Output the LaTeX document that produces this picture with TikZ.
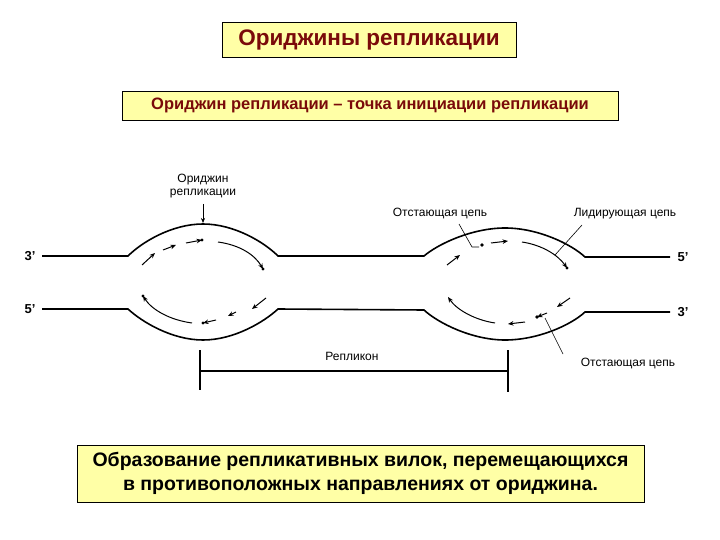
\documentclass[tikz,border=0pt]{standalone}
\usepackage{fontspec}
\setmainfont{Liberation Sans}
\usetikzlibrary{arrows.meta}
\definecolor{boxy}{HTML}{FFFFA6}
\definecolor{dred}{HTML}{7A0A0A}
\begin{document}
\begin{tikzpicture}[x=1pt,y=-1pt,
  box/.style={draw=black,fill=boxy,line width=0.8pt,inner sep=0pt,font=\bfseries},
  dna/.style={line width=1.6pt},
  seg/.style={line width=1pt,-{Stealth[length=5.5pt,width=4.5pt]}},
  lbl/.style={font=\fontsize{12}{14}\selectfont},
  lead/.style={line width=0.6pt}]
\useasboundingbox[fill=white] (0,0) rectangle (720,540);
\node[box,minimum width=294pt,minimum height=35pt,text=dred,font=\bfseries\fontsize{22.5}{26}\selectfont] (t1) at (369,39.5) {Ориджины репликации};
\node[box,minimum width=496pt,minimum height=29pt,text=dred,font=\bfseries\fontsize{16.5}{20}\selectfont] (t2) at (370,105.5) {Ориджин репликации – точка инициации репликации};
\node[box,minimum width=567pt,minimum height=57pt,align=center,font=\bfseries\fontsize{19.5}{24}\selectfont] (t3) at (360.5,473.5) {Образование репликативных вилок, перемещающихся\\в противоположных направлениях от ориджина.};
% DNA strands
\draw[dna] (42,256) -- (128,256) .. controls (142,242) and (172,224) .. (203,224) .. controls (234,224) and (264,242) .. (278,256)
  -- (424,256) .. controls (438,244) and (472,228) .. (505,228) .. controls (538,228) and (571,244) .. (585,257) -- (670,257);
\draw[dna] (42,309) -- (128,309) .. controls (142,322) and (172,340) .. (203,340) .. controls (234,340) and (264,322) .. (278,309)
  -- (424,310) .. controls (438,323) and (472,340) .. (505,340) .. controls (538,340) and (571,325) .. (585,312) -- (670,312);
\node[font=\bfseries\fontsize{13}{15}\selectfont] (l3) at (30,256) {3'};
\node[font=\bfseries\fontsize{13}{15}\selectfont] (l5) at (30,309) {5'};
\node[font=\bfseries\fontsize{13}{15}\selectfont] (r5) at (683,257) {5'};
\node[font=\bfseries\fontsize{13}{15}\selectfont] (r3) at (683,312) {3'};
% left bubble
\draw[seg] (142,265) -- (155,253);
\draw[seg] (163,250) -- (176,245);
\draw[seg] (186,243) -- (202,240);
\fill (202,240) circle (1.6pt);
\draw[seg] (218,242) .. controls (240,245) and (255,255) .. (263,269);
\fill (263,269) circle (1.6pt);
\draw[seg] (192,323) .. controls (170,320) and (152,310) .. (143,296);
\fill (143,296) circle (1.6pt);
\draw[seg] (266,298) -- (252,309);
\draw[seg] (236,312) -- (228,316);
\draw[seg] (216,320) -- (203,323);
\fill (203,323) circle (1.6pt);
\node[lbl,align=center,font=\fontsize{12}{13}\selectfont] (ori) at (203,186) {Ориджин\\репликации};
\coordinate (oriA) at (203,204);
\coordinate (oriB) at (203,223);
\draw[lead,-{Stealth[length=5pt,width=4pt]}] (oriA) -- (oriB);
% right bubble
\draw[seg] (447,265) -- (460,255);
\fill (482,245) circle (1.8pt);
\draw[seg] (491,243) -- (508,241);
\draw[seg] (522,242) .. controls (542,245) and (558,255) .. (567,268);
\fill (567,268) circle (1.6pt);
\draw[seg] (495,323) .. controls (475,320) and (457,310) .. (448,297);
\draw[seg] (570,298) -- (557,307);
\draw[seg] (547,313) -- (537,317);
\fill (537,317) circle (1.8pt);
\draw[seg] (525,322) -- (508,324);
\node[lbl] (lag1) at (440,214) {Отстающая цепь};
\node[lbl] (lead1) at (625,214) {Лидирующая цепь};
\node[lbl] (lag2) at (628,364) {Отстающая цепь};
\coordinate (a1) at (459,224);
\coordinate (a2) at (472,247);
\coordinate (a3) at (479,247);
\draw[lead] (a1) -- (a2) -- (a3);
\coordinate (b1) at (582,225);
\coordinate (b2) at (555,255);
\draw[lead] (b1) -- (b2);
\coordinate (c1) at (563,354);
\coordinate (c2) at (545,318);
\draw[lead] (c1) -- (c2);
% replicon
\node[lbl] (rep) at (352,356) {Репликон};
\coordinate (p1) at (200,350);
\coordinate (p2) at (200,390);
\coordinate (p3) at (508,350);
\coordinate (p4) at (508,392);
\coordinate (h1) at (200,371);
\coordinate (h2) at (508,371);
\draw[line width=1.2pt] (p1) -- (p2) (p3) -- (p4) (h1) -- (h2);
\end{tikzpicture}
\end{document}
